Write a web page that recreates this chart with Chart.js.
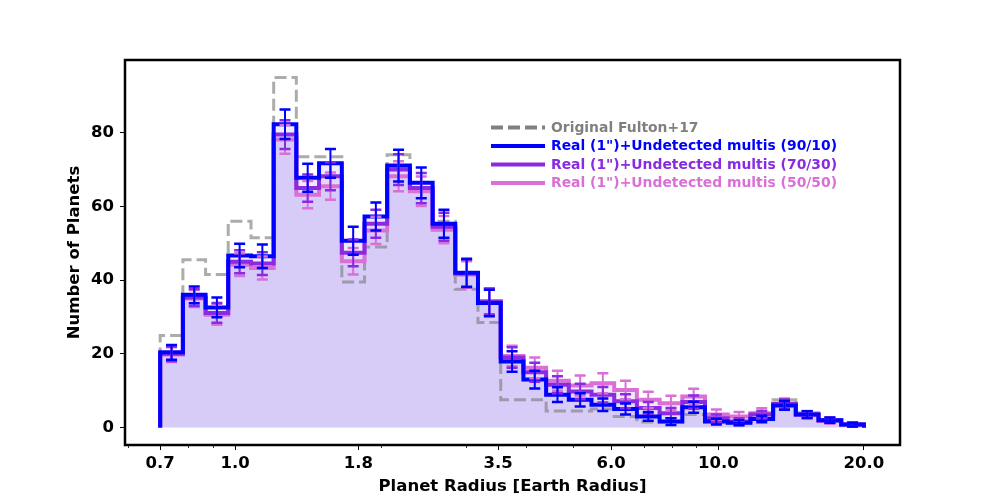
<!DOCTYPE html>
<html>
<head>
<meta charset="UTF-8">
<title>Planet radius histogram</title>
<script src="https://cdn.jsdelivr.net/npm/chart.js@4.4.1/dist/chart.umd.min.js"></script>
<style>
  html, body { margin: 0; padding: 0; background: #fff; }
  #wrap { width: 1000px; height: 500px; }
</style>
</head>
<body>
<div id="wrap"><canvas id="c" width="1000" height="500"></canvas></div>
<script>
// bin edges (log-spaced, 0.7 .. 20 Earth radii)
const binEdges = [0.700, 0.780, 0.869, 0.968, 1.079, 1.202, 1.339, 1.492, 1.663, 1.853,
  2.064, 2.300, 2.563, 2.855, 3.181, 3.545, 3.950, 4.401, 4.903, 5.463,
  6.087, 6.782, 7.557, 8.420, 9.381, 10.453, 11.646, 12.977, 14.458, 16.110,
  17.950, 20.000];

const fulton = [25, 45.5, 41.5, 56, 51.5, 95, 73.5, 73.5, 39.5, 49,
  74, 66.5, 56, 37.5, 28.5, 7.5, 7.5, 4.5, 4.5, 5,
  3, 1.5, 1.5, 3.5, 1.5, 1.2, 2.5, 7.5, 4, 2, 1];

const real9010 = [20.4, 36, 32.6, 46.7, 46.5, 82.3, 67.8, 71.7, 50.7, 57.3,
  71.1, 66.4, 55.3, 42, 33.8, 17.9, 13, 8.9, 7.5, 6.2,
  5, 3, 1.6, 5.5, 1.6, 1.3, 2.3, 6, 3.5, 2, 0.8];
const err9010 = [2, 2.3, 2.7, 3.2, 3.2, 4, 3.8, 3.9, 3.8, 3.8,
  4.3, 4.2, 3.8, 3.8, 3.6, 2.8, 2.4, 2, 1.8, 1.7,
  1.5, 1.2, 0.9, 1.5, 0.8, 0.7, 0.9, 1.2, 0.9, 0.7, 0.5];

const real7030 = [20, 35.3, 31.1, 45, 44.5, 79.5, 65, 68.2, 47.4, 55.3,
  70, 65, 54.5, 41.8, 34.2, 19, 15, 11.6, 9.8, 8.9,
  7.1, 5.3, 3.9, 6.9, 2.5, 1.6, 3.5, 6.4, 3.5, 1.9, 0.8];
const err7030 = [2, 2.3, 2.7, 3.1, 3.1, 3.9, 3.7, 3.8, 3.6, 3.8,
  4.2, 4.1, 3.8, 3.7, 3.5, 2.8, 2.6, 2.3, 2.1, 2.1,
  1.9, 1.6, 1.4, 1.8, 1, 0.9, 1, 1.2, 0.9, 0.7, 0.5];

const real5050 = [19.8, 35, 30.6, 44.2, 43.3, 78.2, 63.2, 65.5, 45.1, 53.5,
  68.2, 64.1, 53.7, 41.5, 34.2, 19.4, 16.2, 12.7, 11.4, 12,
  10.2, 7.5, 6.6, 8.4, 3.5, 3, 3.9, 6.5, 3.5, 1.9, 0.8];
const err5050 = [2, 2.3, 2.7, 3.1, 3.1, 3.9, 3.7, 3.7, 3.6, 3.7,
  4.1, 4, 3.7, 3.6, 3.5, 2.8, 2.8, 2.7, 2.7, 2.7,
  2.5, 2.2, 2, 2.1, 1.4, 1.2, 1.3, 1.4, 1, 0.8, 0.6];

const xTicks = [0.7, 1.0, 1.8, 3.5, 6.0, 10.0, 20.0];
const xMinorTicks = [0.6, 0.8, 0.9, 2, 3, 4, 5, 7, 8, 9];
const yTicks = [0, 20, 40, 60, 80];

const labels = ['Original Fulton+17', 'Real (1")+Undetected multis (90/10)',
  'Real (1")+Undetected multis (70/30)', 'Real (1")+Undetected multis (50/50)'];

const FONT = "'DejaVu Sans', sans-serif";
const cBlue = 'rgb(0,0,255)', cPurple = 'rgb(138,43,226)', cOrchid = 'rgb(218,112,214)';
const cGray = 'rgba(128,128,128,0.65)';
const fillCol = 'rgba(160,130,240,0.17)';

// step outline of a histogram, closed down to zero at both ends
function stepPoints(vals) {
  const pts = [{x: binEdges[0], y: 0}];
  vals.forEach((v, k) => pts.push({x: binEdges[k], y: v}));
  const n = vals.length;
  pts.push({x: binEdges[n], y: vals[n - 1]});
  pts.push({x: binEdges[n], y: 0});
  return pts;
}

function histSet(vals, color, fill) {
  return {
    data: stepPoints(vals),
    stepped: 'before',
    borderColor: color,
    borderWidth: 4,
    borderJoinStyle: 'miter',
    pointRadius: 0,
    fill: fill ? 'origin' : false,
    backgroundColor: fillCol
  };
}

const errSeries = [
  {vals: real5050, err: err5050, color: cOrchid},
  {vals: real7030, err: err7030, color: cPurple},
  {vals: real9010, err: err9010, color: cBlue}
];

const legendRows = [
  {text: labels[0], line: 'rgb(128,128,128)', textCol: 'rgb(128,128,128)', dash: [12, 5]},
  {text: labels[1], line: cBlue, textCol: cBlue, dash: []},
  {text: labels[2], line: cPurple, textCol: cPurple, dash: []},
  {text: labels[3], line: cOrchid, textCol: cOrchid, dash: []}
];

const overlay = {
  id: 'overlay',
  afterDatasetsDraw(chart) {
    const {ctx, scales: {x, y}} = chart;
    errSeries.forEach(s => {
      ctx.save();
      ctx.strokeStyle = s.color;
      for (let k = 0; k < s.vals.length; k++) {
        const xc = x.getPixelForValue(Math.sqrt(binEdges[k] * binEdges[k + 1]));
        const yt = y.getPixelForValue(s.vals[k] + s.err[k]);
        const yb = y.getPixelForValue(s.vals[k] - s.err[k]);
        ctx.lineWidth = 2;
        ctx.beginPath();
        ctx.moveTo(xc, yt); ctx.lineTo(xc, yb);
        ctx.stroke();
        ctx.lineWidth = 2.5;
        ctx.beginPath();
        ctx.moveTo(xc - 5.5, yt); ctx.lineTo(xc + 5.5, yt);
        ctx.moveTo(xc - 5.5, yb); ctx.lineTo(xc + 5.5, yb);
        ctx.stroke();
      }
      ctx.restore();
    });
  },
  afterDraw(chart) {
    const {ctx, chartArea: a, scales: {x}} = chart;
    ctx.save();
    // minor ticks of the log axis
    ctx.strokeStyle = '#000';
    ctx.lineWidth = 0.8;
    xMinorTicks.forEach(v => {
      const px = Math.round(x.getPixelForValue(v)) + 0.5;
      ctx.beginPath();
      ctx.moveTo(px, a.bottom); ctx.lineTo(px, a.bottom + 3);
      ctx.stroke();
    });
    // frame
    ctx.lineWidth = 2.5;
    ctx.strokeRect(a.left, a.top, a.right - a.left, a.bottom - a.top);
    // legend
    ctx.font = 'bold 13.9px ' + FONT;
    ctx.textBaseline = 'middle';
    const ys = [127.5, 146, 164.5, 183];
    legendRows.forEach((r, i) => {
      ctx.strokeStyle = r.line;
      ctx.lineWidth = 4;
      ctx.setLineDash(r.dash);
      ctx.beginPath();
      ctx.moveTo(491, ys[i]); ctx.lineTo(545, ys[i]);
      ctx.stroke();
      ctx.setLineDash([]);
      ctx.fillStyle = r.textCol;
      ctx.fillText(r.text, 551, ys[i] + 0.5);
    });
    ctx.restore();
  }
};

const grayHist = histSet(fulton, cGray, false);
grayHist.borderWidth = 3;
grayHist.borderDash = [12, 5];

new Chart(document.getElementById('c'), {
  type: 'line',
  data: {
    datasets: [
      histSet(real9010, cBlue, true),
      histSet(real7030, cPurple, true),
      histSet(real5050, cOrchid, true),
      grayHist
    ]
  },
  options: {
    responsive: false,
    devicePixelRatio: 1,
    animation: false,
    layout: {padding: {left: 0, right: 100, top: 60, bottom: 0}},
    plugins: {
      legend: {display: false},
      tooltip: {enabled: false},
      filler: {drawTime: 'beforeDatasetsDraw'}
    },
    scales: {
      x: {
        type: 'logarithmic',
        min: 0.592,
        max: 23.75,
        afterBuildTicks: s => { s.ticks = xTicks.map(v => ({value: v, major: true})); },
        afterFit: s => { s.height = 55; },
        border: {display: false},
        grid: {drawOnChartArea: false, drawTicks: true, tickLength: 5, tickColor: '#000', tickWidth: 1},
        ticks: {
          autoSkip: false, maxRotation: 0, padding: 4, color: '#000',
          font: {family: FONT, size: 16.5, weight: 'bold'},
          callback: v => Number(v).toFixed(1)
        },
        title: {
          display: true, text: 'Planet Radius [Earth Radius]', color: '#000',
          font: {family: FONT, size: 16.5, weight: 'bold'},
          padding: {top: 0, bottom: 3}
        }
      },
      y: {
        min: -4.75,
        max: 99.75,
        afterBuildTicks: s => { s.ticks = yTicks.map(v => ({value: v})); },
        afterFit: s => { s.width = 125; },
        border: {display: false},
        grid: {drawOnChartArea: false, drawTicks: true, tickLength: 5, tickColor: '#000', tickWidth: 1},
        ticks: {
          padding: 6, color: '#000',
          font: {family: FONT, size: 16.5, weight: 'bold'}
        },
        title: {
          display: true, text: 'Number of Planets', color: '#000',
          font: {family: FONT, size: 16.5, weight: 'bold'},
          padding: {top: 65, bottom: 0}
        }
      }
    }
  },
  plugins: [overlay]
});
</script>
</body>
</html>
